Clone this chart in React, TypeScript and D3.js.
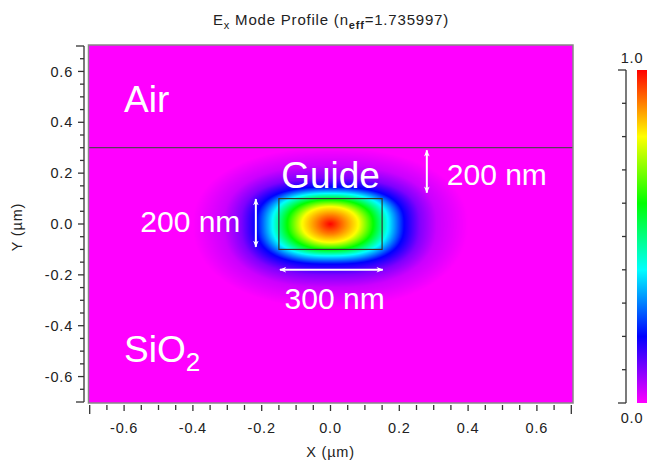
import React, { useMemo } from 'react';
import * as d3 from 'd3';

// ---------- data ----------
const xTickValues = [-0.6, -0.4, -0.2, 0.0, 0.2, 0.4, 0.6];
const xTickLabels = ['-0.6', '-0.4', '-0.2', '0.0', '0.2', '0.4', '0.6'];
const yTickValues = [-0.6, -0.4, -0.2, 0.0, 0.2, 0.4, 0.6];
const yTickLabels = ['-0.6', '-0.4', '-0.2', '0.0', '0.2', '0.4', '0.6'];
const minorTickStep = 0.05;
const axisDomain = [-0.7, 0.7];

// mode contours: field level -> half widths (µm)
const modeLevels = [1.0, 0.9, 0.8, 0.6, 0.4, 0.2, 0.1, 0.04, 0.0];
const modeHalfX = [0.0, 0.04, 0.082, 0.125, 0.168, 0.215, 0.26, 0.31, 0.4];
const modeHalfYUp = [0.0, 0.035, 0.068, 0.095, 0.12, 0.145, 0.18, 0.23, 0.3];
const modeHalfYDown = [0.0, 0.04, 0.072, 0.1, 0.125, 0.158, 0.2, 0.25, 0.33];
const modeExponent = [2.0, 2.0, 2.1, 2.3, 2.5, 2.6, 2.6, 2.4, 2.2];

const guideX = [-0.15, 0.15];
const guideY = [-0.1, 0.1];
const airInterfaceY = 0.3;

const colorbarTicks = [0, 0.1, 0.2, 0.3, 0.4, 0.5, 0.6, 0.7, 0.8, 0.9, 1.0];
const colorbarLabelValues = [0.0, 1.0];
const colorbarLabels = ['0.0', '1.0'];

// annotations (data coordinates)
const arrowSpecs = [
  { x1: 0.28, y1: 0.29, x2: 0.28, y2: 0.123 },
  { x1: -0.217, y1: 0.098, x2: -0.217, y2: -0.09 },
  { x1: -0.147, y1: -0.18, x2: 0.152, y2: -0.18 },
];
const annotationTexts = [
  { text: '200 nm', x: 0.338, y: 0.154, anchor: 'start' },
  { text: '200 nm', x: -0.262, y: -0.031, anchor: 'end' },
  { text: '300 nm', x: 0.012, y: -0.335, anchor: 'middle' },
];
const regionTexts = [
  { text: 'Air', x: -0.6, y: 0.44, anchor: 'start' },
  { text: 'Guide', x: 0.0, y: 0.142, anchor: 'middle' },
];
const substrateText = { base: 'SiO', sub: '2', x: -0.6, y: -0.543 };

// ---------- layout ----------
const W = 647;
const H = 463;
const plot = { left: 89.7, right: 571.3, top: 46, bottom: 402 };
const frame = { x0: 88.5, x1: 573, y0: 45, y1: 403 };
const cbar = { x: 637, w: 14, y0: 70, y1: 403, axisX: 626 };
const FONT = '"Liberation Sans", Arial, Helvetica, sans-serif';

const x = d3.scaleLinear().domain(axisDomain).range([plot.left, plot.right]);
const y = d3.scaleLinear().domain(axisDomain).range([plot.bottom, plot.top]);
const cy = d3.scaleLinear().domain([0, 1]).range([cbar.y1, cbar.y0]);
const color = (v: number) => d3.hsl(300 * (1 - v), 1, 0.5).rgb();

const hx = d3.scaleLinear().domain(modeLevels).range(modeHalfX);
const hyU = d3.scaleLinear().domain(modeLevels).range(modeHalfYUp);
const hyD = d3.scaleLinear().domain(modeLevels).range(modeHalfYDown);
const pe = d3.scaleLinear().domain(modeLevels).range(modeExponent);

function fieldAt(px: number, py: number): number {
  const inside = (v: number) => {
    const ax = hx(v);
    const ay = py >= 0 ? hyU(v) : hyD(v);
    if (ax <= 1e-9 || ay <= 1e-9) return px === 0 && py === 0;
    const p = pe(v);
    return Math.pow(Math.abs(px) / ax, p) + Math.pow(Math.abs(py) / ay, p) <= 1;
  };
  if (!inside(0)) return 0;
  let lo = 0;
  let hi = 1;
  for (let k = 0; k < 20; k++) {
    const mid = (lo + hi) / 2;
    if (inside(mid)) lo = mid;
    else hi = mid;
  }
  return lo;
}

function buildImage(): string {
  const w = Math.round(frame.x1 - frame.x0);
  const h = Math.round(frame.y1 - frame.y0);
  const canvas = document.createElement('canvas');
  canvas.width = w;
  canvas.height = h;
  const ctx = canvas.getContext('2d');
  if (!ctx) return '';
  const img = ctx.createImageData(w, h);
  const lut = d3.range(1024).map((i) => color(i / 1023));
  for (let j = 0; j < h; j++) {
    const dy = y.invert(frame.y0 + j + 0.5);
    for (let i = 0; i < w; i++) {
      const dx = x.invert(frame.x0 + i + 0.5);
      const v = fieldAt(dx, dy);
      const c = lut[Math.round(v * 1023)];
      const o = (j * w + i) * 4;
      img.data[o] = c.r;
      img.data[o + 1] = c.g;
      img.data[o + 2] = c.b;
      img.data[o + 3] = 255;
    }
  }
  ctx.putImageData(img, 0, 0);
  return canvas.toDataURL();
}

const minorTicks = d3.range(-14, 15).map((i) => +(i * minorTickStep).toFixed(3));

export default function App() {
  const href = useMemo(() => buildImage(), []);
  const gradStops = d3.range(0, 1.0001, 0.05);
  const tickFont = { fontFamily: FONT, fontSize: 14.5, letterSpacing: 0.8, fill: '#222' };

  return (
    <svg
      width={W}
      height={H}
      style={{ position: 'absolute', left: 0, top: 0, background: '#fff' }}
      xmlns="http://www.w3.org/2000/svg"
    >
      <defs>
        <linearGradient id="cbg" x1="0" y1="1" x2="0" y2="0">
          {gradStops.map((s) => (
            <stop key={s} offset={s} stopColor={color(s).formatHex()} />
          ))}
        </linearGradient>
        <clipPath id="frameClip">
          <rect x={frame.x0} y={frame.y0} width={frame.x1 - frame.x0} height={frame.y1 - frame.y0} />
        </clipPath>
        <marker id="ah" viewBox="0 0 10 10" refX="9" refY="5" markerWidth="7" markerHeight="7" orient="auto-start-reverse" markerUnits="userSpaceOnUse">
          <path d="M0,1 L10,5 L0,9 L3,5 Z" fill="#fff" />
        </marker>
      </defs>

      {/* title */}
      <text x={331} y={25} textAnchor="middle" fontFamily={FONT} fontSize={15} letterSpacing={0.8} fill="#222">
        E<tspan dy={4} fontSize={11}>x</tspan>
        <tspan dy={-4}> Mode Profile (n</tspan>
        <tspan dy={4} fontSize={11} fontWeight="bold">eff</tspan>
        <tspan dy={-4}>=1.735997)</tspan>
      </text>

      {/* field */}
      <g clipPath="url(#frameClip)">
        <image href={href} x={frame.x0} y={frame.y0} width={frame.x1 - frame.x0} height={frame.y1 - frame.y0} preserveAspectRatio="none" />
        <line x1={frame.x0} x2={frame.x1} y1={y(airInterfaceY)} y2={y(airInterfaceY)} stroke="#5a3a5a" strokeWidth={1.3} />
        <rect
          x={x(guideX[0])}
          y={y(guideY[1])}
          width={x(guideX[1]) - x(guideX[0])}
          height={y(guideY[0]) - y(guideY[1])}
          fill="none"
          stroke="#333"
          strokeWidth={1.2}
        />
      </g>
      <rect x={frame.x0} y={frame.y0} width={frame.x1 - frame.x0} height={frame.y1 - frame.y0} fill="none" stroke="#888" strokeWidth={1.5} />

      {/* arrows */}
      {arrowSpecs.map((a, i) => (
        <line key={i} x1={x(a.x1)} y1={y(a.y1)} x2={x(a.x2)} y2={y(a.y2)} stroke="#fff" strokeWidth={2} markerStart="url(#ah)" markerEnd="url(#ah)" />
      ))}

      {/* region labels */}
      {regionTexts.map((t, i) => (
        <text key={i} x={x(t.x)} y={y(t.y)} textAnchor={t.anchor as any} fontFamily={FONT} fontSize={37} fill="#fff">
          {t.text}
        </text>
      ))}
      <text x={x(substrateText.x)} y={y(substrateText.y)} fontFamily={FONT} fontSize={37} fill="#fff">
        {substrateText.base}
        <tspan dy={9} fontSize={26}>{substrateText.sub}</tspan>
      </text>
      {annotationTexts.map((t, i) => (
        <text key={i} x={x(t.x)} y={y(t.y)} textAnchor={t.anchor as any} fontFamily={FONT} fontSize={30} fill="#fff">
          {t.text}
        </text>
      ))}

      {/* y axis */}
      <line x1={84} x2={84} y1={y(axisDomain[1])} y2={y(axisDomain[0])} stroke="#333" strokeWidth={1.3} />
      {minorTicks.map((t) => {
        const isEnd = Math.abs(Math.abs(t) - 0.7) < 1e-6;
        const isMajor = yTickValues.some((v) => Math.abs(v - t) < 1e-6);
        const len = isEnd ? 8 : isMajor ? 6 : 4;
        return <line key={'yt' + t} x1={84 - len} x2={84} y1={y(t)} y2={y(t)} stroke="#333" strokeWidth={1.3} />;
      })}
      {yTickValues.map((v, i) => (
        <text key={'yl' + i} x={73} y={y(v)} dy="0.35em" textAnchor="end" {...tickFont}>
          {yTickLabels[i]}
        </text>
      ))}
      <text transform={`translate(22,${(y(0) + 3).toFixed(1)}) rotate(-90)`} textAnchor="middle" {...tickFont}>
        Y (µm)
      </text>

      {/* x axis */}
      {minorTicks.map((t) => {
        const isEnd = Math.abs(Math.abs(t) - 0.7) < 1e-6;
        const isMajor = xTickValues.some((v) => Math.abs(v - t) < 1e-6);
        const len = isEnd ? 9 : isMajor ? 6 : 5;
        return <line key={'xt' + t} x1={x(t)} x2={x(t)} y1={405} y2={405 + len} stroke="#333" strokeWidth={1.3} />;
      })}
      {xTickValues.map((v, i) => (
        <text key={'xl' + i} x={x(v)} y={433} textAnchor="middle" {...tickFont}>
          {xTickLabels[i]}
        </text>
      ))}
      <text x={x(0)} y={457} textAnchor="middle" {...tickFont}>
        X (µm)
      </text>

      {/* colorbar */}
      <rect x={cbar.x} y={cbar.y0} width={cbar.w} height={cbar.y1 - cbar.y0} fill="url(#cbg)" />
      <line x1={cbar.axisX} x2={cbar.axisX} y1={cbar.y0} y2={cbar.y1} stroke="#333" strokeWidth={1.3} />
      {colorbarTicks.map((t, i) => {
        const isEnd = i === 0 || i === colorbarTicks.length - 1;
        return <line key={'ct' + i} x1={cbar.axisX - (isEnd ? 8 : 4)} x2={cbar.axisX} y1={cy(t)} y2={cy(t)} stroke="#333" strokeWidth={1.3} />;
      })}
      {colorbarLabelValues.map((v, i) => (
        <text key={'cl' + i} x={632} y={v === 1 ? cy(v) - 7 : cy(v) + 20} textAnchor="middle" {...tickFont}>
          {colorbarLabels[i]}
        </text>
      ))}
    </svg>
  );
}
